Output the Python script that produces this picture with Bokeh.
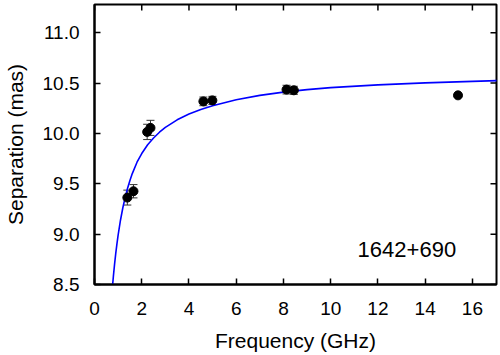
import math
from bokeh.plotting import figure
from bokeh.models import (Range1d, FixedTicker, Whisker, ColumnDataSource,
                          TeeHead, Label, NumeralTickFormatter)
from bokeh.embed import file_html
from bokeh.resources import INLINE

# measured data points
freq = [1.39, 1.65, 2.23, 2.37, 4.61, 4.99, 8.13, 8.44, 15.39]
sep = [9.363, 9.426, 10.015, 10.055, 10.318, 10.328, 10.435, 10.428, 10.378]
err = [0.074, 0.066, 0.076, 0.075, 0.043, 0.040, 0.043, 0.040, 0.020]

# fitted curve
fit_freq = [0.77, 0.80, 0.85, 0.90, 0.95, 1.0, 1.1, 1.2, 1.3, 1.4, 1.5, 1.6, 1.8, 2.0,
            2.25, 2.5, 2.75, 3.0, 3.5, 4.0, 4.5, 5.0, 6.0, 7.0, 8.0, 9.0, 10.0, 12.0,
            14.0, 16.0, 17.2]
fit_sep = [8.503, 8.583, 8.702, 8.809, 8.904, 8.990, 9.138, 9.262, 9.366, 9.456, 9.533,
           9.601, 9.714, 9.800, 9.888, 9.955, 10.012, 10.060, 10.135, 10.192, 10.237,
           10.275, 10.335, 10.378, 10.410, 10.435, 10.455, 10.482, 10.502, 10.517, 10.525]

x_ticks = [0, 2, 4, 6, 8, 10, 12, 14, 16]
y_ticks = [8.5, 9.0, 9.5, 10.0, 10.5, 11.0]

FONT = "Liberation Sans"
X_MAX = 17.02
Y_MAX = 11.28

p = figure(width=498, height=354, output_backend="svg", toolbar_location=None,
           x_range=Range1d(0, X_MAX), y_range=Range1d(8.5, Y_MAX),
           min_border_left=94, min_border_right=2, min_border_top=4, min_border_bottom=68)
p.background_fill_color = "white"
p.border_fill_color = "white"
p.outline_line_color = "black"
p.outline_line_width = 2
p.grid.visible = False

p.line(fit_freq, fit_sep, line_color="#0000ff", line_width=1.6)

src = ColumnDataSource(dict(x=freq, y=sep,
                            upper=[s + e for s, e in zip(sep, err)],
                            lower=[s - e for s, e in zip(sep, err)]))
w = Whisker(source=src, base="x", upper="upper", lower="lower", dimension="height",
            line_color="#333333", line_width=1,
            upper_head=TeeHead(size=8, line_color="#333333", line_width=1),
            lower_head=TeeHead(size=8, line_color="#333333", line_width=1))
p.add_layout(w)
p.scatter("x", "y", source=src, size=9, color="black")

# mirrored inward ticks on the top and right frame edges
p.ray(x=x_ticks, y=[Y_MAX] * len(x_ticks), length=6, length_units="screen",
      angle=-math.pi / 2, line_color="black", line_width=1.5)
p.ray(x=[X_MAX] * len(y_ticks), y=y_ticks, length=6, length_units="screen",
      angle=math.pi, line_color="black", line_width=1.5)

def style_axis(ax, ticks):
    ax.ticker = FixedTicker(ticks=ticks)
    ax.major_tick_in = 6
    ax.major_tick_out = 0
    ax.minor_tick_in = 0
    ax.minor_tick_out = 0
    ax.major_tick_line_width = 1.5
    ax.major_tick_line_color = "black"
    ax.axis_line_width = 2
    ax.axis_line_color = "black"
    ax.major_label_text_font = FONT
    ax.major_label_text_color = "black"
    ax.major_label_text_font_size = "19px"
    ax.axis_label_text_font = FONT
    ax.axis_label_text_font_size = "21px"
    ax.axis_label_text_font_style = "normal"
    ax.axis_label_text_color = "black"

xa = p.xaxis[0]
style_axis(xa, x_ticks)
xa.major_label_standoff = 17
xa.axis_label = "Frequency (GHz)"
xa.axis_label_standoff = 11

ya = p.yaxis[0]
style_axis(ya, y_ticks)
ya.formatter = NumeralTickFormatter(format="0.0")
ya.major_label_standoff = 15
ya.axis_label = "Separation (mas)"
ya.axis_label_standoff = 13

p.add_layout(Label(x=11.14, y=8.85, text="1642+690", text_font=FONT,
                   text_font_size="22px", text_color="black",
                   text_align="left", text_baseline="alphabetic"))

open("out.html", "w").write(file_html(p, INLINE))
